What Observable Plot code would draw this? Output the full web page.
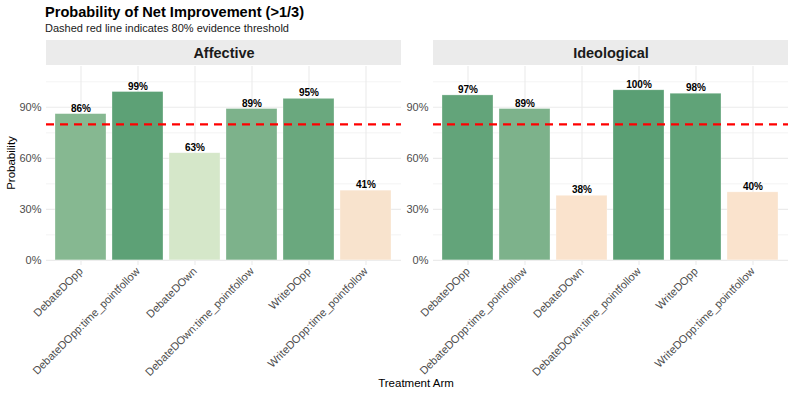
<!DOCTYPE html>
<html>
<head>
<meta charset="utf-8">
<script src="https://cdn.jsdelivr.net/npm/d3@7"></script>
<script src="https://cdn.jsdelivr.net/npm/@observablehq/plot@0.6"></script>
<style>
  html, body { margin: 0; padding: 0; background: #fff; }
  body { font-family: "Liberation Sans", Arial, Helvetica, sans-serif; }
  #wrap { position: relative; width: 793px; height: 397px; overflow: hidden; }
  .abs { position: absolute; line-height: 1; white-space: nowrap; }
  #title { left: 45px; top: 4.5px; font-size: 14.6px; font-weight: bold; color: #000; }
  #subtitle { left: 45px; top: 22.7px; font-size: 11px; color: #1a1a1a; }
  #chart { position: absolute; left: 0; top: 38px; }
  #ylab { left: 12px; top: 163px; font-size: 11.5px; color: #000; transform: translate(-50%, -50%) rotate(-90deg); }
  #xlab { left: 416px; top: 384px; font-size: 11.5px; color: #000; transform: translate(-50%, -50%); }
</style>
</head>
<body>
<div id="wrap">
  <div id="title" class="abs">Probability of Net Improvement (&gt;1/3)</div>
  <div id="subtitle" class="abs">Dashed red line indicates 80% evidence threshold</div>
  <div id="chart"></div>
  <div id="ylab" class="abs">Probability</div>
  <div id="xlab" class="abs">Treatment Arm</div>
</div>
<script>
const outcomes = ["Affective", "Ideological"];
const arms = [
  "DebateDOpp",
  "DebateDOpp:time_pointfollow",
  "DebateDOwn",
  "DebateDOwn:time_pointfollow",
  "WriteDOpp",
  "WriteDOpp:time_pointfollow"
];
const affective = [0.86, 0.99, 0.63, 0.89, 0.95, 0.41];
const ideological = [0.97, 0.89, 0.38, 1.00, 0.98, 0.40];
const yTicks = [0, 0.3, 0.6, 0.9];
const yMinor = [0.15, 0.45, 0.75, 1.05];
const threshold = 0.8;

const rows = [];
arms.forEach((a, i) => rows.push({outcome: "Affective", arm: a, p: affective[i]}));
arms.forEach((a, i) => rows.push({outcome: "Ideological", arm: a, p: ideological[i]}));

const grid = "#ebebeb";
const axisColor = "#4d4d4d";

const chart = Plot.plot({
  width: 793,
  height: 359,
  marginLeft: 45,
  marginRight: 5,
  marginTop: 28,
  marginBottom: 132,
  style: {fontFamily: '"Liberation Sans", Arial, Helvetica, sans-serif', background: "#fff"},
  fx: {domain: outcomes, paddingInner: 0.083, paddingOuter: 0, axis: null, label: null},
  x: {domain: arms, paddingInner: 0.1, paddingOuter: 0.15, axis: null, label: null},
  y: {domain: [-0.03, 1.14], axis: null, label: null},
  color: {
    type: "linear",
    domain: [0.4, 0.63, 0.87, 1.0],
    range: ["#fae3cd", "#d5e7c9", "#83b68f", "#5a9f74"],
    interpolate: "rgb",
    clamp: true
  },
  marks: [
    Plot.ruleY(yMinor, {stroke: grid, strokeWidth: 0.6}),
    Plot.ruleY(yTicks, {stroke: grid, strokeWidth: 1.1}),
    Plot.ruleX(arms, {x: d => d, stroke: grid, strokeWidth: 1.1}),
    Plot.rect(outcomes, {fx: d => d, y1: 1.146, y2: 1.293, fill: "#ebebeb"}),
    Plot.text(outcomes, {fx: d => d, text: d => d, frameAnchor: "top", dy: -13, lineAnchor: "middle",
      fontSize: 14.5, fontWeight: "bold", fill: "#1a1a1a"}),
    Plot.barY(rows, {fx: "outcome", x: "arm", y: "p", fill: "p",
      stroke: "#ffffff", strokeOpacity: 0.5, strokeWidth: 0.6}),
    Plot.ruleY([threshold], {stroke: "#ff0000", strokeWidth: 2.2, strokeDasharray: "8,6"}),
    Plot.text(rows, {fx: "outcome", x: "arm", y: "p", text: d => Math.round(d.p * 100) + "%",
      lineAnchor: "bottom", dy: -2.5, fontSize: 10, fontWeight: "bold", fill: "#000"}),
    Plot.axisX({tickRotate: -45, tickSize: 0, tickPadding: 4, fontSize: 11, color: axisColor, label: null}),
    Plot.axisY(yTicks, {tickFormat: d3.format(".0%"), tickSize: 0, tickPadding: 5, fontSize: 11,
      color: axisColor, label: null, facetAnchor: null})
  ]
});
document.getElementById("chart").appendChild(chart);
</script>
</body>
</html>
